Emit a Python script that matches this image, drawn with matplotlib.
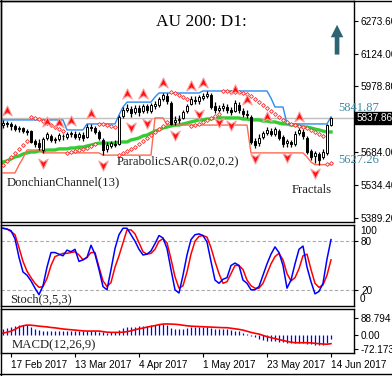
import numpy as np
import matplotlib.pyplot as plt
from matplotlib.path import Path
from matplotlib.lines import Line2D
import matplotlib.transforms as mtransforms

# Daily AU 200 candles (open, high, low, close), one entry per trading day
opens = [5805, 5814, 5810, 5800, 5787, 5792, 5778, 5778, 5733, 5724,
         5693, 5747, 5756, 5738, 5742, 5756, 5751, 5765, 5765, 5751,
         5760, 5751, 5796, 5792, 5774, 5738, 5697, 5711, 5720, 5720,
         5845, 5873, 5877, 5864, 5882, 5868, 5891, 5868, 5891, 5895,
         5922, 5935, 5904, 5819, 5828, 5837, 5868, 5900, 5918, 5913,
         5927, 5935, 5940, 5891, 5873, 5882, 5886, 5873, 5868, 5895,
         5868, 5855, 5841, 5733, 5724, 5751, 5769, 5778, 5765, 5778,
         5751, 5724, 5729, 5720, 5769, 5774, 5747, 5688, 5666, 5675,
         5661, 5679, 5805]
highs = [5828, 5823, 5819, 5810, 5800, 5796, 5787, 5783, 5742, 5742,
         5751, 5774, 5765, 5751, 5769, 5765, 5774, 5778, 5778, 5774,
         5774, 5810, 5810, 5800, 5783, 5747, 5729, 5733, 5738, 5850,
         5886, 5899, 5891, 5895, 5895, 5899, 5899, 5904, 5913, 5931,
         5949, 5949, 5913, 5846, 5850, 5873, 5899, 5935, 5935, 5940,
         5949, 5958, 5949, 5909, 5895, 5904, 5900, 5886, 5918, 5909,
         5882, 5873, 5850, 5747, 5765, 5778, 5796, 5792, 5796, 5787,
         5760, 5742, 5738, 5778, 5796, 5787, 5756, 5697, 5688, 5684,
         5697, 5810, 5841.87]
lows = [5792, 5796, 5783, 5778, 5774, 5769, 5760, 5724, 5706, 5693,
        5680, 5738, 5729, 5724, 5733, 5738, 5742, 5751, 5742, 5738,
        5733, 5747, 5778, 5765, 5738, 5670, 5684, 5702, 5706, 5715,
        5837, 5864, 5841, 5855, 5846, 5859, 5859, 5859, 5877, 5886,
        5913, 5900, 5805, 5805, 5814, 5832, 5859, 5895, 5900, 5900,
        5918, 5927, 5877, 5859, 5864, 5868, 5859, 5850, 5864, 5859,
        5841, 5837, 5720, 5702, 5711, 5742, 5760, 5756, 5756, 5738,
        5706, 5706, 5706, 5711, 5760, 5742, 5675, 5648, 5634, 5627.26,
        5652, 5670, 5800]
closes = [5814, 5810, 5800, 5787, 5792, 5778, 5774, 5729, 5720, 5706,
          5742, 5765, 5738, 5742, 5760, 5754, 5765, 5769, 5751, 5765,
          5747, 5796, 5792, 5774, 5747, 5693, 5715, 5724, 5715, 5841,
          5873, 5882, 5859, 5882, 5864, 5891, 5873, 5895, 5900, 5922,
          5940, 5913, 5810, 5828, 5832, 5864, 5891, 5922, 5913, 5931,
          5935, 5944, 5886, 5873, 5882, 5891, 5873, 5864, 5904, 5873,
          5855, 5850, 5729, 5715, 5747, 5769, 5783, 5765, 5787, 5747,
          5720, 5733, 5720, 5765, 5783, 5756, 5684, 5661, 5679, 5648,
          5684, 5805, 5837.86]

# Donchian channel (13), upper and lower bands
don_upper = ([5828] * 16 + [5783] * 5 + [5810] * 8 + [5850, 5886] + [5908] * 7
             + [5931] + [5949] * 11 + [5958] * 17 + [5926] + [5886] * 3
             + [5810] * 11 + [5841.87])
don_lower = ([5590] * 4 + [5626, 5657, 5693] + [5693] * 3 + [5680] * 15
             + [5670] * 13 + [5837] * 3 + [5805] * 21 + [5680] * 14
             + [5662, 5639] + [5627.26] * 5)

# green moving average
ma = [5639, 5644, 5653, 5662, 5666, 5675, 5680, 5684, 5684, 5689,
      5689, 5693, 5693, 5693, 5698, 5698, 5698, 5702, 5702, 5706,
      5706, 5711, 5715, 5720, 5724, 5724, 5724, 5724, 5724, 5729,
      5729, 5729, 5738, 5742, 5747, 5756, 5760, 5769, 5778, 5783,
      5792, 5796, 5801, 5805, 5805, 5810, 5814, 5819, 5823, 5828,
      5828, 5832, 5832, 5837, 5837, 5837, 5837, 5837, 5837, 5837,
      5832, 5832, 5828, 5828, 5828, 5823, 5823, 5819, 5819, 5814,
      5810, 5810, 5805, 5805, 5801, 5796, 5796, 5792, 5787, 5783,
      5778, 5774, 5774]

# Parabolic SAR (0.02, 0.2)
sar = [5626, 5644, 5662, 5680, 5698, 5715, 5733,
       5841, 5837, 5832, 5823, 5814, 5805, 5796, 5787, 5778,
       5680, 5684, 5689, 5693, 5698, 5702, 5711, 5720,
       5810, 5810, 5805, 5801, 5796,
       5670, 5680, 5689, 5698, 5706, 5720, 5733, 5747, 5760, 5774, 5787, 5801, 5819,
       5953, 5949, 5940, 5931, 5922,
       5801, 5805, 5810, 5819, 5828, 5837, 5846, 5855,
       5958, 5958, 5953, 5953, 5953, 5949, 5944, 5936, 5922, 5909, 5895, 5882,
       5868, 5855, 5841, 5828, 5819, 5810, 5805, 5801, 5796, 5792, 5783, 5774,
       5765, 5756,
       5630, 5635]

# bars carrying a fractal
fractal_up = [1, 11, 14, 17, 22, 31, 35, 40, 47, 50, 58, 61, 66, 74]
fractal_down = [10, 25, 32, 36, 43, 49, 54, 57, 63, 71, 78]

# Stochastic (3,5,3)
stoch_k = [96, 95, 93, 83, 60, 42, 38, 31, 22, 14,
           25, 48, 66, 66, 64, 62, 69, 67, 70, 55,
           57, 60, 75, 64, 45, 24, 20, 45, 71, 88,
           96, 96, 88, 80, 70, 63, 64, 68, 77, 87,
           84, 71, 45, 20, 16, 38, 63, 82, 88, 89,
           87, 79, 55, 32, 28, 33, 35, 50, 53, 50,
           32, 28, 20, 20, 24, 38, 52, 64, 73, 66,
           50, 22, 32, 52, 70, 74, 48, 30, 15, 18,
           28, 58, 82]
stoch_d = [96, 95, 92, 88, 72, 55, 43, 35, 28, 23,
           24, 34, 50, 61, 63, 65, 65, 66, 67, 63,
           57, 60, 66, 66, 48, 31, 24, 29, 48, 62,
           78, 94, 94, 89, 78, 67, 64, 65, 70, 80,
           83, 78, 58, 36, 22, 25, 42, 64, 80, 86,
           87, 85, 72, 55, 40, 28, 30, 40, 50, 50,
           45, 32, 25, 22, 22, 28, 40, 52, 61, 65,
           57, 40, 31, 35, 46, 62, 64, 45, 28, 23,
           26, 38, 57]

# MACD (12,26,9)
macd_hist = [30, 37, 44, 50, 53, 53, 51, 44, 33, 27,
             23, 21, 21, 21, 21, 21, 23, 23, 21, 21,
             21, 23, 23, 21, 18, 14, 12, 14, 18, 27,
             35, 41, 44, 44, 48, 50, 50, 51, 55, 59,
             59, 53, 39, 30, 30, 34, 39, 44, 44, 44,
             44, 44, 37, 30, 30, 30, 30, 27, 23, 20,
             12, 5, -5, -12, -21, -27, -30, -30, -34, -35,
             -39, -41, -44, -44, -42, -44, -48, -50, -53, -55,
             -51, -41, -23]
macd_signal = [10, 15, 20, 30, 42, 49, 53, 52, 50, 47,
               45, 43, 40, 38, 35, 32, 30, 28, 26, 24,
               22, 21, 21, 21, 21, 18, 15, 14, 14, 14,
               15, 18, 22, 28, 33, 37, 42, 46, 50, 55,
               58, 59, 58, 57, 55, 52, 49, 47, 46, 45,
               44, 43, 42, 41, 40, 39, 39, 36, 33, 30,
               26, 20, 14, 9, 5, -2, -9, -14, -19, -24,
               -29, -34, -38, -41, -41, -41, -41, -42, -44, -46,
               -48, -49, -46]

date_pos = [2, 18, 34, 50, 66, 82]
date_labels = ['17 Feb 2017', '13 Mar 2017', '4 Apr 2017', '1 May 2017',
               '23 May 2017', '14 Jun 2017']
price_ticks = [6273.60, 6124.00, 5978.80, 5684.00, 5534.40, 5389.20]

serif = 'Liberation Serif'
sans = 'Liberation Sans'
W, H = 392, 376

fig = plt.figure(figsize=(W / 100, H / 100), dpi=100)
fig.patch.set_facecolor('white')


def ax_at(top, bottom):
    return fig.add_axes([1 / W, 1 - bottom / H, 353 / W, (bottom - top) / H])


ax = ax_at(1, 222)
ax_st = ax_at(225, 306)
ax_m = ax_at(309, 353)

x = np.arange(len(closes))
o, h, l, c = map(np.array, (opens, highs, lows, closes))

for a in (ax, ax_st, ax_m):
    a.set_xlim(-0.5, 87.75)
    a.yaxis.tick_right()
    a.tick_params(axis='y', labelsize=7.2, length=3, pad=2, width=0.8)
    for s in a.spines.values():
        s.set_linewidth(1)

# ---- main price panel
ax.set_ylim(5369.7, 6362)
ax.axhline(closes[-1], color='#c0c0c0', lw=1, zorder=1)
ax.plot(x, ma, color='#33cc33', lw=2.4, zorder=2)
ax.plot(x, don_upper, color='#2b8cf0', lw=1, zorder=2)
ax.plot(x, don_lower, color='#ff6a50', lw=1, zorder=2)
ax.vlines(x, l, h, color='black', lw=0.9, zorder=3)
bull = c >= o
ax.bar(x, np.abs(c - o) + 0.5, bottom=np.minimum(o, c), width=0.6,
       color=np.where(bull, 'white', 'black'), edgecolor='black', lw=0.7, zorder=4)
ax.plot(x, sar, ls='none', marker='D', ms=2.0, mfc='white', mec='#ff2a2a', mew=0.6, zorder=5)

up_path = Path([(0, 1), (0.85, -0.8), (0, -0.25), (-0.85, -0.8), (0, 1)],
               [Path.MOVETO, Path.LINETO, Path.LINETO, Path.LINETO, Path.CLOSEPOLY])
down_path = Path([(0, -1), (0.85, 0.8), (0, 0.25), (-0.85, 0.8), (0, -1)],
                 [Path.MOVETO, Path.LINETO, Path.LINETO, Path.LINETO, Path.CLOSEPOLY])
up_tr = mtransforms.offset_copy(ax.transData, fig=fig, y=7, units='points')
dn_tr = mtransforms.offset_copy(ax.transData, fig=fig, y=-7, units='points')
ax.plot(x[fractal_up], h[fractal_up], ls='none', marker=up_path, ms=8,
        mfc='#ff1010', mec='#ff9c9c', mew=0.8, transform=up_tr, zorder=6)
ax.plot(x[fractal_down], l[fractal_down], ls='none', marker=down_path, ms=8,
        mfc='#ff1010', mec='#ff9c9c', mew=0.8, transform=dn_tr, zorder=6)

ax.set_yticks(price_ticks)
ax.set_yticklabels(['%.2f' % v for v in price_ticks], fontfamily=sans)
ax.tick_params(axis='x', bottom=False, labelbottom=False)
ylab = mtransforms.blended_transform_factory(ax.transAxes, ax.transData)
ax.text(1.006, closes[-1], '%.2f' % closes[-1], transform=ylab, color='white',
        fontsize=7.2, fontfamily=sans, va='center', ha='left', clip_on=False,
        bbox=dict(boxstyle='square,pad=0.12', fc='black', ec='black'))

ax.annotate('%.2f' % don_upper[-1], xy=(83.8, don_upper[-1]), xytext=(0, 6.5),
            textcoords='offset points', color='#3f8aa3', fontsize=9,
            fontfamily=serif, va='center', ha='left', annotation_clip=False)
ax.annotate('%.2f' % don_lower[-1], xy=(83.8, don_lower[-1]), xytext=(0, 3.5),
            textcoords='offset points', color='#3f8aa3', fontsize=9,
            fontfamily=serif, va='center', ha='left', annotation_clip=False)

ax.annotate('', xy=(0.952, 0.905), xytext=(0.952, 0.745), xycoords='axes fraction',
            arrowprops=dict(arrowstyle='simple,head_width=0.75,head_length=0.75,tail_width=0.28',
                            mutation_scale=12, color='#2e6472', lw=0))

fig.text(201 / W, 1 - 21.5 / H, 'AU 200: D1:', fontsize=12.5, fontfamily=serif,
         ha='center', va='center')
fig.text(117 / W, 1 - 161 / H, 'ParabolicSAR(0.02,0.2)', fontsize=9.2,
         fontfamily=serif, ha='left', va='center', color='#222222')
fig.text(7 / W, 1 - 182 / H, 'DonchianChannel(13)', fontsize=9.2,
         fontfamily=serif, ha='left', va='center', color='#222222')
fig.text(292 / W, 1 - 190 / H, 'Fractals', fontsize=9.2,
         fontfamily=serif, ha='left', va='center', color='#222222')

# ---- stochastic panel
st_lab = mtransforms.blended_transform_factory(ax_st.transAxes, ax_st.transData)
ax_st.set_ylim(0, 100)
ax_st.axhline(80, color='#aaaaaa', lw=0.8, ls=(0, (3, 2)))
ax_st.axhline(20, color='#aaaaaa', lw=0.8, ls=(0, (3, 2)))
ax_st.plot(x, stoch_d, color='#ff0000', lw=1.1)
ax_st.plot(x, stoch_k, color='#0000ff', lw=1.1)
ax_st.set_yticks([20, 80])
ax_st.set_yticklabels(['20', '80'], fontfamily=sans)
ax_st.text(1.017, 98.5, '100', transform=st_lab, fontsize=7.2, fontfamily=sans,
           va='top', ha='left', clip_on=False)
ax_st.text(1.017, 2, '0', transform=st_lab, fontsize=7.2, fontfamily=sans,
           va='bottom', ha='left', clip_on=False)
ax_st.tick_params(axis='x', bottom=False, labelbottom=False)
fig.text(10 / W, 1 - 299 / H, 'Stoch(3,5,3)', fontsize=9, fontfamily=serif,
         ha='left', va='center', color='#222222')

# ---- MACD panel
ax_m.set_ylim(-95.7, 138.3)
ax_m.vlines(x, 0, macd_hist, color='#0000ff', lw=0.9)
ax_m.plot(x, macd_signal, color='#ff0000', lw=1.2)
ax_m.set_yticks([88.794, 0, -72.173])
ax_m.set_yticklabels(['88.794', '0.00', '-72.173'], fontfamily=sans)
ax_m.set_xticks(date_pos)
ax_m.set_xticklabels(date_labels, fontfamily=sans, fontsize=7.2, ha='left')
ax_m.tick_params(axis='x', length=3, pad=2, width=0.8)
fig.text(12 / W, 1 - 345 / H, 'MACD(12,26,9)', fontsize=9.2, fontfamily=serif,
         ha='left', va='center', color='#222222')

# outer frame
for xs, ys in (([0.5 / W, 0.5 / W], [0, 1]), ([0, 1], [1 - 0.5 / H, 1 - 0.5 / H]),
               ([0, 1], [1 - 374 / H, 1 - 374 / H])):
    fig.add_artist(Line2D(xs, ys, color='black', lw=1, transform=fig.transFigure))

fig.savefig('out.png', dpi=100)
